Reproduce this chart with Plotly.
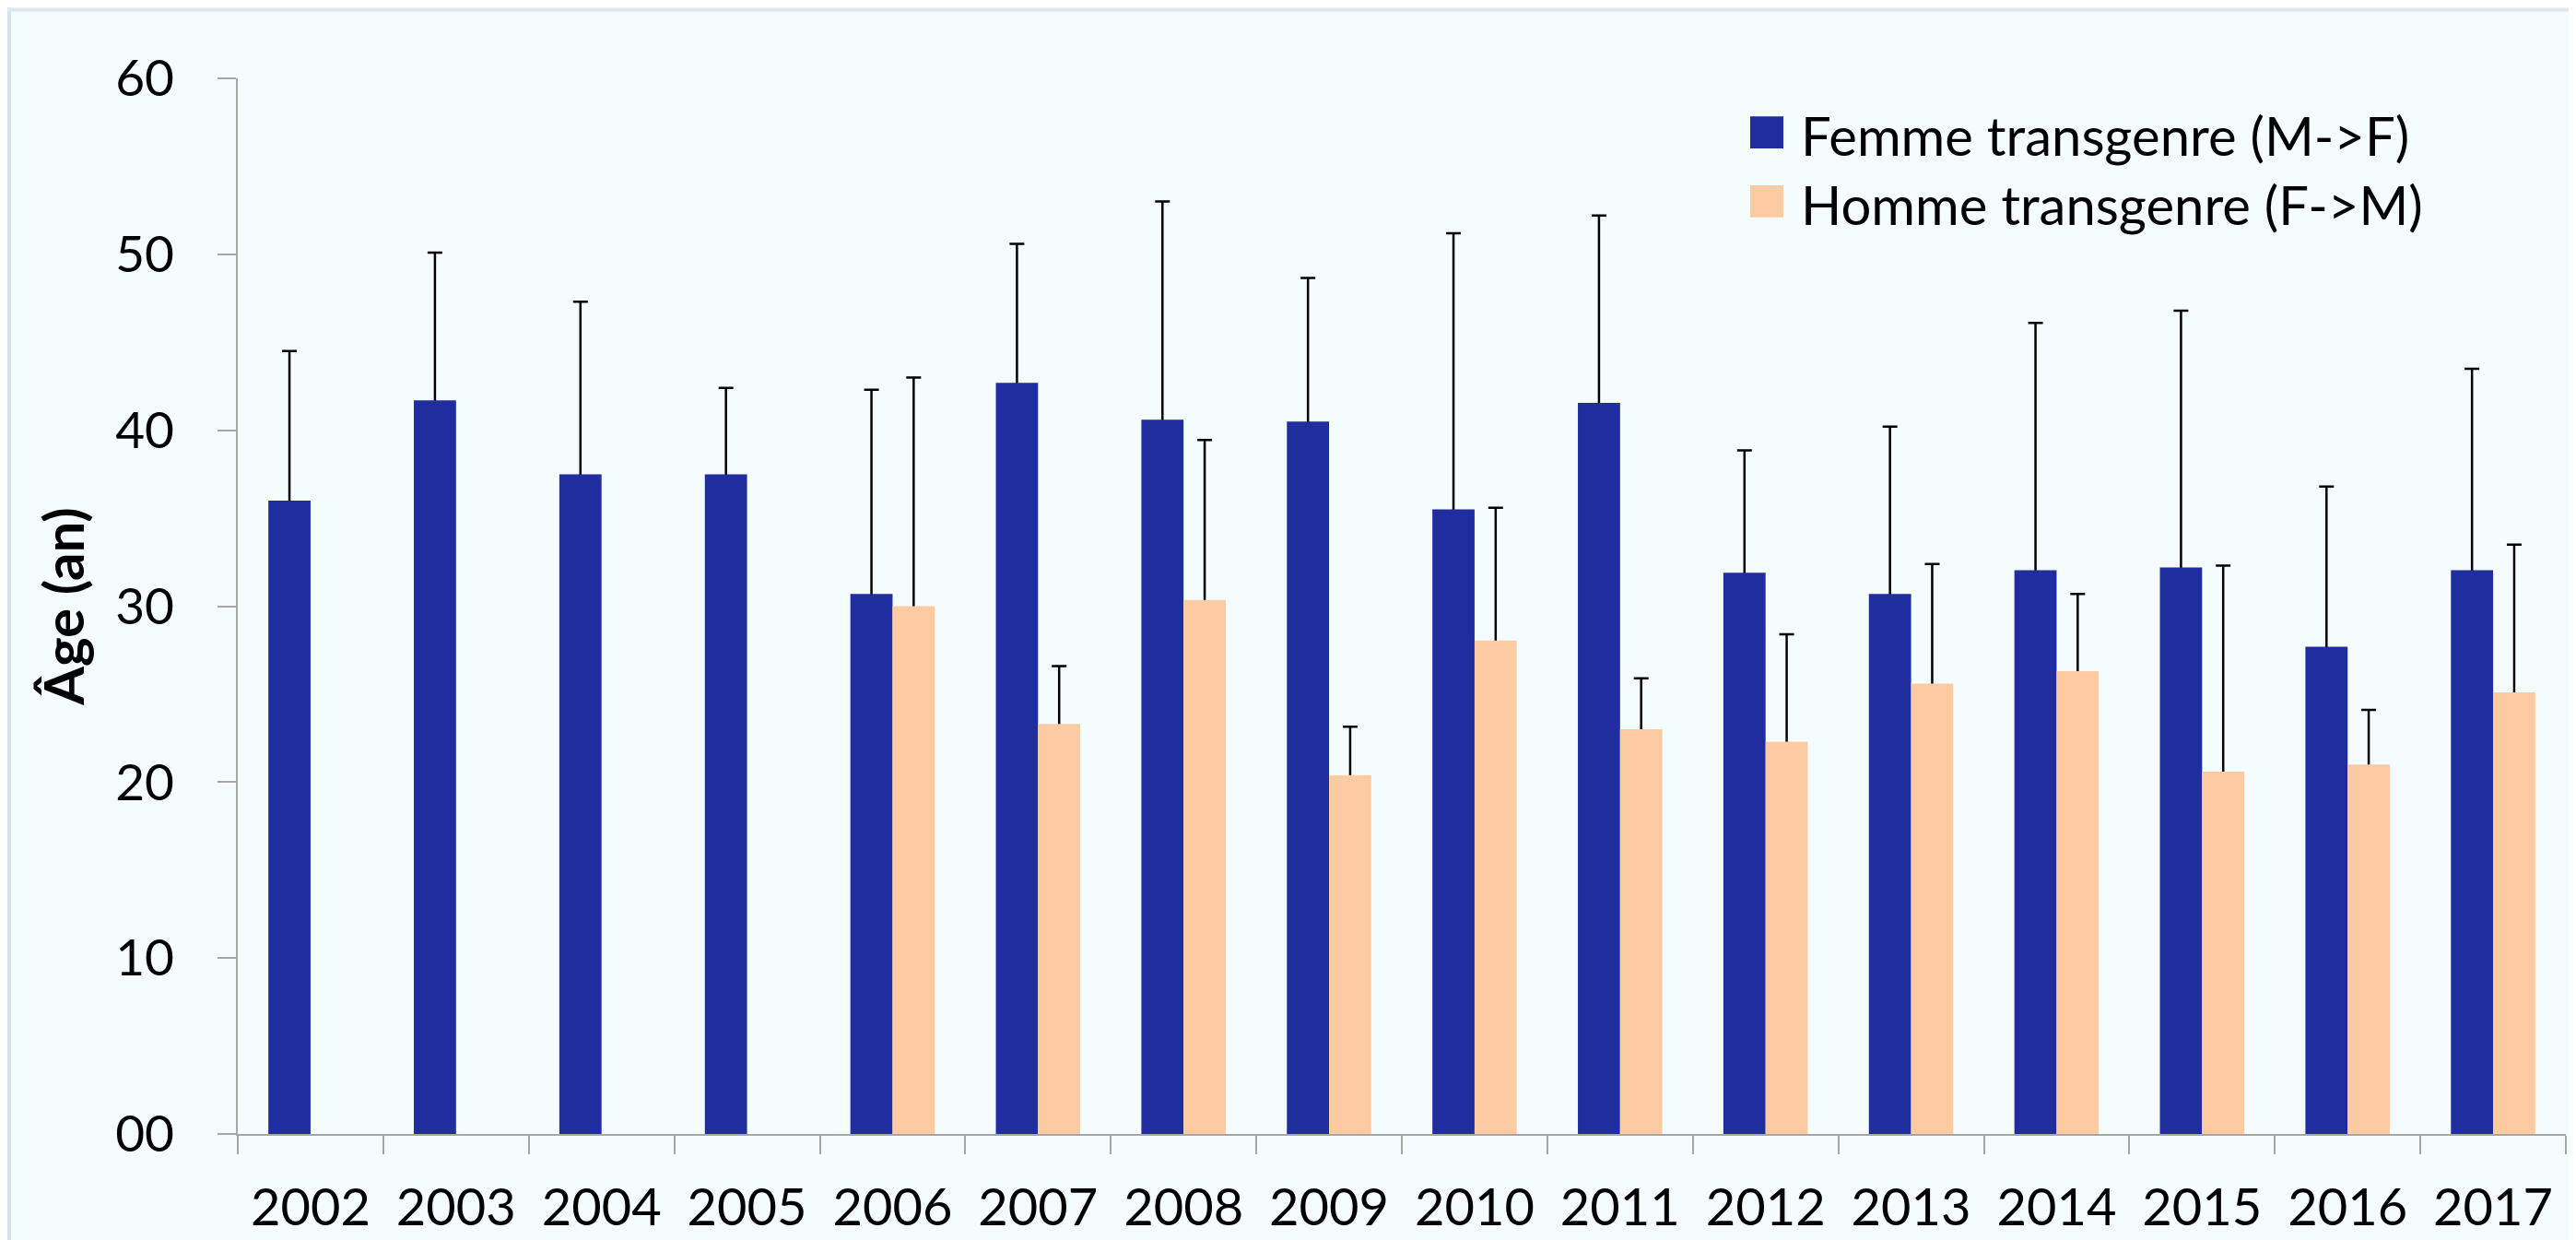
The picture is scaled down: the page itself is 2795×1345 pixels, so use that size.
"""Âge moyen (± écart-type) des personnes transgenres par année, 2002-2017."""

import plotly.graph_objects as go

YEARS = [str(y) for y in range(2002, 2018)]

# Femme transgenre (M->F): moyenne et écart-type (an)
MTF_MEAN = [36.0, 41.7, 37.5, 37.5, 30.7, 42.7, 40.6, 40.5,
            35.5, 41.55, 31.9, 30.7, 32.05, 32.2, 27.7, 32.05]
MTF_SD = [8.5, 8.4, 9.8, 4.9, 11.6, 7.9, 12.4, 8.15,
          15.7, 10.65, 6.95, 9.5, 14.05, 14.6, 9.1, 11.45]

# Homme transgenre (F->M): pas de données avant 2006
FTM_MEAN = [None, None, None, None, 30.0, 23.3, 30.35, 20.4,
            28.05, 23.0, 22.3, 25.6, 26.3, 20.6, 21.0, 25.1]
FTM_SD = [None, None, None, None, 13.0, 3.3, 9.1, 2.75,
          7.55, 2.9, 6.1, 6.8, 4.4, 11.7, 3.1, 8.4]

SERIES_NAMES = ["Femme transgenre (M->F)", "Homme transgenre (F->M)"]
Y_TICKS = [0, 10, 20, 30, 40, 50, 60]

COLORS = {
    "mtf": "#1F2D9E",
    "ftm": "#FDCBA2",
    "axis": "#A6A6A6",
    "background": "#F5FCFD",
    "frame": "#D6E3EC",
}
FONT = "Lato, 'Open Sans', sans-serif"

W, H = 2795, 1345
MARGIN = {"l": 250, "r": 19, "t": 77, "b": 117}


def px_to_paper_x(px):
    return (px - MARGIN["l"]) / (W - MARGIN["l"] - MARGIN["r"])


def px_to_paper_y(py):
    return (H - MARGIN["b"] - py) / (H - MARGIN["t"] - MARGIN["b"])


fig = go.Figure()

series = [
    ("mtf", SERIES_NAMES[0], MTF_MEAN, MTF_SD),
    ("ftm", SERIES_NAMES[1], FTM_MEAN, FTM_SD),
]

# Error bars sit on an invisible bar drawn first, so the solid bar on top
# hides the lower cap and only the upper whisker shows (Excel style).
for key, name, mean, sd in series:
    fig.add_trace(
        go.Bar(
            x=YEARS,
            y=mean,
            offsetgroup=key,
            marker_color="rgba(0,0,0,0)",
            marker_line_width=0,
            error_y={
                "type": "data",
                "symmetric": False,
                "array": [0 if v is None else v for v in sd],
                "arrayminus": [0.3] * len(sd),
                "color": "black",
                "thickness": 2.5,
                "width": 8,
            },
            showlegend=False,
            hoverinfo="skip",
        )
    )

for key, name, mean, sd in series:
    fig.add_trace(
        go.Bar(
            x=YEARS,
            y=mean,
            name=name,
            offsetgroup=key,
            marker_color=COLORS[key],
            marker_line_width=0,
            showlegend=False,
        )
    )

# Legend drawn by hand: plotly caps legend swatches at 16 px
legend_rows = [(136, COLORS["mtf"]), (211, COLORS["ftm"])]
for (cy, color), name in zip(legend_rows, SERIES_NAMES):
    fig.add_shape(
        type="rect",
        xref="paper", yref="paper",
        x0=px_to_paper_x(1891), x1=px_to_paper_x(1927),
        y0=px_to_paper_y(cy - 17.5), y1=px_to_paper_y(cy + 17.5),
        fillcolor=color, line_width=0,
    )
    fig.add_annotation(
        xref="paper", yref="paper",
        x=px_to_paper_x(1944), y=px_to_paper_y(cy + 3),
        xanchor="left", yanchor="middle",
        text=name, showarrow=False,
        font={"family": FONT, "size": 58, "color": "black"},
    )

# thin frame along the top and left edges of the slide
fig.add_shape(type="rect", xref="paper", yref="paper",
              x0=px_to_paper_x(0), x1=px_to_paper_x(4),
              y0=px_to_paper_y(H), y1=px_to_paper_y(0),
              fillcolor=COLORS["frame"], line_width=0)
fig.add_shape(type="rect", xref="paper", yref="paper",
              x0=px_to_paper_x(0), x1=px_to_paper_x(W),
              y0=px_to_paper_y(4), y1=px_to_paper_y(0),
              fillcolor="#DFE8EC", line_width=0)

fig.update_layout(
    width=W,
    height=H,
    margin=MARGIN,
    paper_bgcolor=COLORS["background"],
    plot_bgcolor=COLORS["background"],
    barmode="group",
    bargap=0.42,
    bargroupgap=0,
    font={"family": FONT, "size": 54, "color": "black"},
    xaxis={
        "type": "category",
        "showgrid": False,
        "showline": True,
        "linecolor": COLORS["axis"],
        "linewidth": 2,
        "ticks": "outside",
        "tickson": "boundaries",
        "ticklen": 20,
        "tickwidth": 2,
        "tickcolor": COLORS["axis"],
        "ticklabelstandoff": 30,
        "tickfont": {"size": 56},
    },
    yaxis={
        "range": [0, 60],
        "tickvals": Y_TICKS,
        "ticktext": [f"{v:02d}" for v in Y_TICKS],
        "showgrid": False,
        "zeroline": False,
        "showline": True,
        "linecolor": COLORS["axis"],
        "linewidth": 2,
        "ticks": "outside",
        "ticklen": 20,
        "tickwidth": 2,
        "tickcolor": COLORS["axis"],
        "ticklabelstandoff": 36,
        "tickfont": {"size": 55},
        "title": {
            "text": "<b>Âge (an)</b>",
            "font": {"size": 60},
            "standoff": 14,
        },
    },
)

fig.write_html("out.html")
